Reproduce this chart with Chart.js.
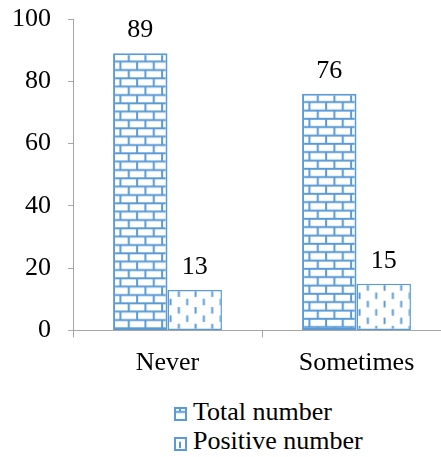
<!DOCTYPE html>
<html>
<head>
<meta charset="utf-8">
<script src="https://cdn.jsdelivr.net/npm/chart.js@4.4.1/dist/chart.umd.min.js"></script>
<style>
  html, body { margin: 0; padding: 0; background: #fff; width: 441px; height: 457px; overflow: hidden; }
  #wrap { position: relative; width: 441px; height: 457px; overflow: hidden; }
  #chart { position: absolute; left: 0; top: 0; }
  .leg { position: absolute; left: 174px; font-family: 'Liberation Serif', 'DejaVu Serif', serif; font-size: 26px; color: #000; white-space: nowrap; }
  .leg canvas { position: absolute; left: 0; }
  .leg span { position: absolute; left: 19px; top: 0; line-height: 28px; }
</style>
</head>
<body>
<div id="wrap">
  <canvas id="chart" width="451" height="390"></canvas>
  <div class="leg" style="top:398px"><canvas id="sw0" width="13" height="14" style="top:9px"></canvas><span>Total number</span></div>
  <div class="leg" style="top:427px"><canvas id="sw1" width="13" height="14" style="top:10px"></canvas><span>Positive number</span></div>
</div>
<script>
// Survey answers and counts
const categories = ['Never', 'Sometimes'];
const totalNumber = [89, 76];
const positiveNumber = [13, 15];
const seriesNames = ['Total number', 'Positive number'];
const yMin = 0, yMax = 100, yStep = 20;

const BLUE = '#5B9BD5';
const AXIS = '#A6A6A6';
const FONT = "'Liberation Serif', 'DejaVu Serif', serif";
const FONT_SIZE = 26;
const CAT_PCT = 0.576;

// 50x50 tile: bricks 16.7 wide, 8.3 tall
function brickTile() {
  const c = document.createElement('canvas');
  c.width = 50; c.height = 50;
  const g = c.getContext('2d');
  g.fillStyle = '#fff'; g.fillRect(0, 0, 50, 50);
  g.strokeStyle = BLUE; g.lineWidth = 2;
  const rh = 50 / 6, bw = 50 / 3;
  g.beginPath();
  for (let r = 0; r <= 6; r++) { g.moveTo(0, r * rh); g.lineTo(50, r * rh); }
  for (let r = 0; r < 6; r++) {
    const x0 = (r % 2) ? bw / 2 : 0;
    for (let j = -1; j <= 3; j++) {
      const x = x0 + j * bw;
      g.moveTo(x, r * rh); g.lineTo(x, (r + 1) * rh);
    }
  }
  g.stroke();
  return c;
}

// 50x50 tile: short vertical dashes in staggered columns
function dashTile() {
  const c = document.createElement('canvas');
  c.width = 50; c.height = 50;
  const g = c.getContext('2d');
  g.fillStyle = '#fff'; g.fillRect(0, 0, 50, 50);
  g.fillStyle = BLUE;
  const cw = 50 / 6, per = 50 / 3;
  for (let j = 0; j < 6; j++) {
    const x = 3 + j * cw;
    const y0 = (j % 2 === 0) ? 8.7 : 0.4;
    for (let k = -1; k <= 3; k++) g.fillRect(x - 1, y0 + k * per, 2, 6.5);
  }
  return c;
}

const tiles = [brickTile(), dashTile()];

function patternAt(ctx, tile, dx, dy) {
  const p = ctx.createPattern(tile, 'repeat');
  p.setTransform(new DOMMatrix().translate(dx, dy));
  return p;
}

// Fill anchored at each bar's top-left corner
function barFill(context) {
  const chart = context.chart;
  const xs = chart.scales.x, ys = chart.scales.y;
  if (!xs || !ys) return '#fff';
  const i = context.dataIndex, d = context.datasetIndex;
  const catW = xs.width / categories.length;
  const barW = catW * CAT_PCT / 2;
  const center = xs.getPixelForValue(i);
  const left = center - barW + d * barW;
  const top = ys.getPixelForValue(context.raw);
  const dx = d === 0 ? left - 1 : left;
  return patternAt(chart.ctx, tiles[d], dx, top);
}

// Value printed above each bar
const valueLabels = {
  id: 'valueLabels',
  afterDatasetsDraw(chart) {
    const ctx = chart.ctx;
    ctx.save();
    ctx.font = FONT_SIZE + 'px ' + FONT;
    ctx.fillStyle = '#000';
    ctx.textAlign = 'center';
    ctx.textBaseline = 'alphabetic';
    chart.data.datasets.forEach((ds, d) => {
      chart.getDatasetMeta(d).data.forEach((bar, i) => {
        ctx.fillText(String(ds.data[i]), bar.x, bar.y - 16);
      });
    });
    ctx.restore();
  }
};

Chart.defaults.font.family = FONT;
Chart.defaults.font.size = FONT_SIZE;
Chart.defaults.color = '#000';

new Chart(document.getElementById('chart'), {
  type: 'bar',
  data: {
    labels: categories,
    datasets: [
      { label: seriesNames[0], data: totalNumber, backgroundColor: barFill, borderColor: BLUE, borderWidth: 2, borderSkipped: false },
      { label: seriesNames[1], data: positiveNumber, backgroundColor: barFill, borderColor: BLUE, borderWidth: 1.5, borderSkipped: false }
    ]
  },
  options: {
    responsive: false,
    animation: false,
    events: [],
    layout: { padding: { top: 19, left: 0, right: 0, bottom: 0 } },
    datasets: { bar: { categoryPercentage: CAT_PCT, barPercentage: 1 } },
    plugins: { legend: { display: false }, tooltip: { enabled: false } },
    scales: {
      x: {
        grid: { drawOnChartArea: false, drawTicks: true, tickLength: 7, color: AXIS, offset: true },
        border: { display: true, color: AXIS, width: 1 },
        ticks: { padding: 10, color: '#000' },
        afterFit(scale) { scale.height = 59.5; }
      },
      y: {
        min: yMin, max: yMax,
        grid: { drawOnChartArea: false, drawTicks: true, tickLength: 5, color: AXIS },
        border: { display: true, color: AXIS, width: 1 },
        ticks: { stepSize: yStep, padding: 17, color: '#000' },
        afterFit(scale) { scale.width = 73; scale.paddingTop = 0; scale.paddingBottom = 0; }
      }
    }
  },
  plugins: [valueLabels]
});

// Legend swatches using the same fills
function swatch(id, d, dx, dy) {
  const c = document.getElementById(id);
  const g = c.getContext('2d');
  g.fillStyle = patternAt(g, tiles[d], dx, dy);
  g.fillRect(0, 0, c.width, c.height);
  g.strokeStyle = BLUE; g.lineWidth = 2;
  g.strokeRect(1, 1, c.width - 2, c.height - 2);
}
swatch('sw0', 0, 6, 5 - 50 / 6);
swatch('sw1', 1, 3, -4);
</script>
</body>
</html>
